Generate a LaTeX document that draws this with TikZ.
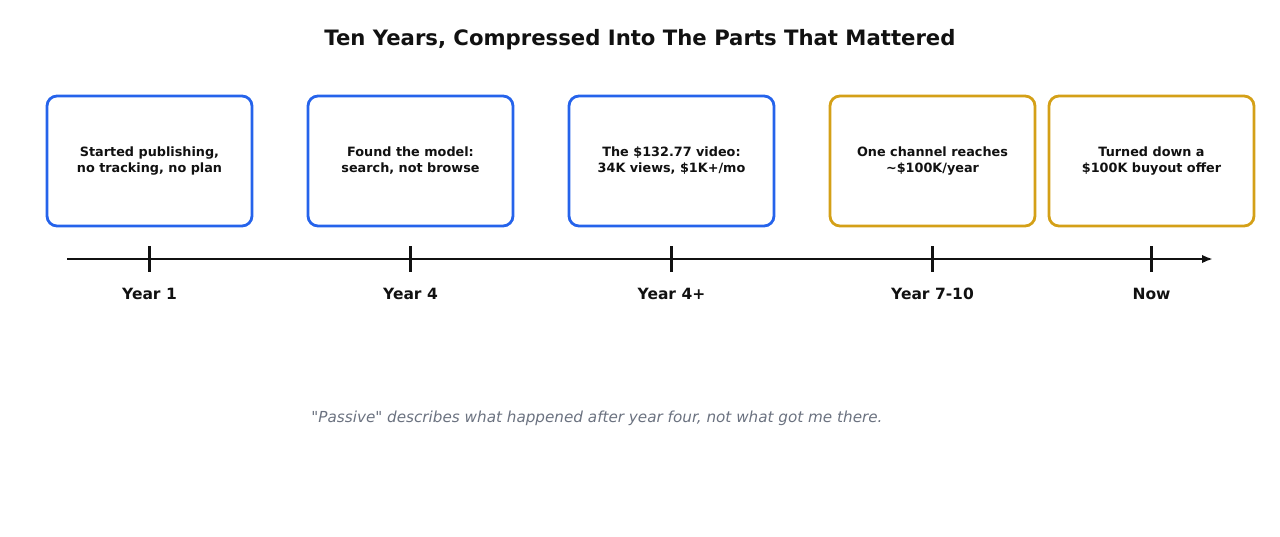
\documentclass[tikz,border=0pt]{standalone}
\usepackage{fontspec}
\setmainfont{DejaVu Sans}
\usetikzlibrary{arrows.meta}
\definecolor{bblue}{HTML}{2563EB}
\definecolor{bgold}{HTML}{D4A017}
\definecolor{ink}{HTML}{111111}
\definecolor{note}{HTML}{6B7280}
\begin{document}
\begin{tikzpicture}[x=1pt,y=-1pt,
  card/.style={draw=#1, line width=2.8pt, rounded corners=10pt, minimum width=205pt, minimum height=130pt, inner sep=0pt, align=center, text=ink, font=\bfseries\fontsize{12.8}{16}\selectfont},
  yearlbl/.style={text=ink, font=\bfseries\fontsize{15.5}{18}\selectfont},
  tickmark/.style={draw=ink, line width=2.2pt}]
\useasboundingbox (0,0) rectangle (1280,536);
\node[text=ink, font=\bfseries\fontsize{21.2}{26}\selectfont] (title) at (640,40) {Ten Years, Compressed Into The Parts That Mattered};
\node[card=bblue] (c1) at (149.5,161) {Started publishing,\\no tracking, no plan};
\node[card=bblue] (c2) at (410.5,161) {Found the model:\\search, not browse};
\node[card=bblue] (c3) at (671.5,161) {The \$132.77 video:\\34K views, \$1K+/mo};
\node[card=bgold] (c4) at (932.5,161) {One channel reaches\\\textasciitilde\$100K/year};
\node[card=bgold] (c5) at (1151.5,161) {Turned down a\\\$100K buyout offer};
\coordinate (a0) at (67,259);
\coordinate (a1) at (1213,259);
\draw[draw=ink, line width=2.2pt, -{Latex[length=11pt,width=8.5pt]}] (a0) -- (a1);
\foreach \i/\x/\t in {1/149.5/Year 1,2/410.5/Year 4,3/671.5/Year 4+,4/932.5/Year 7-10,5/1151.5/Now}{
  \coordinate (t\i a) at (\x,246);
  \coordinate (t\i b) at (\x,272);
  \draw[tickmark] (t\i a) -- (t\i b);
  \node[yearlbl] (y\i) at (\x,294) {\t};
}
\node[text=note, font=\itshape\fontsize{15.2}{18}\selectfont] (quote) at (597,418) {\textquotedbl Passive\textquotedbl{} describes what happened after year four, not what got me there.};
\end{tikzpicture}
\end{document}
